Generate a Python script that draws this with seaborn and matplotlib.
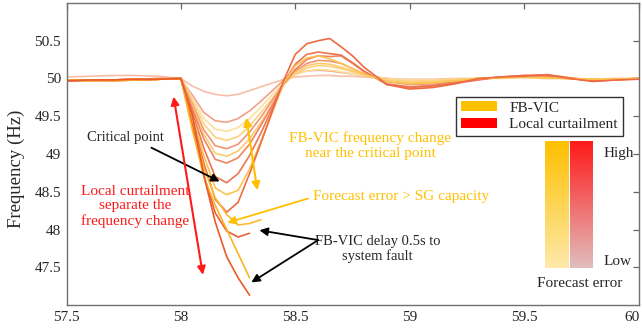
import numpy as np
import pandas as pd
import matplotlib
matplotlib.use("Agg")
import matplotlib.pyplot as plt
import matplotlib.transforms as mtrans
from matplotlib.patches import Patch
from matplotlib.colors import LinearSegmentedColormap
import seaborn as sns

# ---------------- data ----------------
time_s = [57.5, 57.6, 57.7, 57.8, 57.9, 58.0, 58.05, 58.1, 58.15, 58.2, 58.25,
          58.3, 58.35, 58.4, 58.45, 58.5, 58.55, 58.6, 58.65, 58.7, 58.75, 58.8,
          58.9, 59.0, 59.1, 59.2, 59.3, 59.4, 59.5, 59.6, 59.7, 59.8, 59.9, 60.0]

lc_a = [50.02, 50.03, 50.04, 50.04, 50.03, 50.0, 49.9, 49.83, 49.79, 49.77, 49.79, 49.84, 49.89, 49.94, 49.99, 50.02, 50.03, 50.04, 50.04, 50.03, 50.03, 50.02, 50.0, 49.99, 49.99, 50.0, 50.0, 50.01, 50.01, 50.0, 50.0, 49.99, 50.0, 50.0]
lc_b = [49.98, 49.97, 49.98, 49.99, 50.0, 49.99, 49.78, 49.55, 49.44, 49.42, 49.47, 49.57, 49.7, 49.84, 49.98, 50.06, 50.1, 50.11, 50.1, 50.08, 50.06, 50.04, 50.0, 49.97, 49.97, 49.98, 50.0, 50.01, 50.02, 50.01, 50.0, 49.99, 49.99, 50.0]
fb_c = [49.97, 49.98, 49.97, 49.98, 49.99, 50.0, 49.74, 49.47, 49.33, 49.3, 49.35, 49.47, 49.62, 49.79, 49.95, 50.05, 50.1, 50.12, 50.11, 50.09, 50.06, 50.04, 50.0, 49.98, 49.98, 49.99, 50.0, 50.0, 50.01, 50.0, 50.0, 49.99, 50.0, 50.0]
fb_d = [49.98, 49.97, 49.98, 49.98, 49.99, 50.0, 49.7, 49.4, 49.22, 49.18, 49.23, 49.37, 49.55, 49.74, 49.93, 50.06, 50.14, 50.17, 50.16, 50.13, 50.09, 50.05, 49.99, 49.96, 49.97, 49.99, 50.0, 50.01, 50.02, 50.01, 50.0, 49.99, 49.99, 50.0]
lc_e = [49.97, 49.98, 49.98, 49.99, 49.99, 50.0, 49.66, 49.32, 49.11, 49.07, 49.13, 49.29, 49.49, 49.71, 49.94, 50.1, 50.2, 50.24, 50.23, 50.2, 50.13, 50.06, 49.96, 49.92, 49.93, 49.96, 49.99, 50.02, 50.03, 50.02, 50.0, 49.98, 49.99, 50.0]
fb_f = [49.98, 49.98, 49.97, 49.98, 49.99, 50.0, 49.63, 49.26, 49.01, 48.97, 49.04, 49.2, 49.42, 49.66, 49.92, 50.08, 50.17, 50.2, 50.19, 50.15, 50.1, 50.05, 49.97, 49.94, 49.95, 49.97, 50.0, 50.01, 50.02, 50.01, 50.0, 49.99, 49.99, 50.0]
lc_g = [49.98, 49.97, 49.98, 49.99, 50.0, 50.0, 49.6, 49.2, 48.93, 48.88, 48.95, 49.13, 49.38, 49.65, 49.93, 50.12, 50.25, 50.3, 50.29, 50.3, 50.2, 50.09, 49.93, 49.89, 49.91, 49.95, 49.99, 50.02, 50.04, 50.03, 50.0, 49.97, 49.98, 50.0]
lc_h = [49.97, 49.98, 49.98, 49.99, 49.99, 50.0, 49.55, 49.08, 48.7, 48.62, 48.74, 48.98, 49.28, 49.61, 49.95, 50.19, 50.32, 50.35, 50.33, 50.31, 50.21, 50.1, 49.92, 49.88, 49.9, 49.94, 49.98, 50.02, 50.04, 50.05, 50.01, 49.97, 49.98, 50.0]
fb_i = [49.98, 49.97, 49.98, 49.98, 49.99, 50.0, 49.5, 48.98, 48.55, 48.46, 48.52, 48.8, 49.17, 49.56, 49.94, 50.17, 50.27, 50.3, 50.26, 50.2, 50.13, 50.06, 49.96, 49.93, 49.94, 49.97, 50.0, 50.01, 50.02, 50.01, 50.0, 49.99, 49.99, 50.0]
lc_j = [49.98, 49.98, 49.97, 49.98, 49.99, 50.0, 49.45, 48.88, 48.4, 48.23, 48.36, 48.74, 49.15, 49.57, 49.98, 50.32, 50.46, 50.5, 50.53, 50.42, 50.3, 50.15, 49.92, 49.86, 49.88, 49.93, 50.0, 50.02, 50.03, 50.05, 50.0, 49.96, 49.98, 49.99]
fb_k = [49.98, 49.97, 49.98, 49.99, 49.99, 50.0, 49.42, 48.82, 48.42, 48.2, 48.06, 48.08, 48.13]
lc_l = [49.97, 49.98, 49.98, 49.98, 49.99, 50.0, 49.38, 48.72, 48.22, 47.98, 47.9, 47.95]
fb_m = [49.98, 49.98, 49.97, 49.98, 49.99, 50.0, 49.32, 48.7, 48.32, 48.0, 47.68, 47.36]
lc_n = [49.97, 49.98, 49.98, 49.99, 49.99, 50.0, 49.52, 48.72, 48.1, 47.64, 47.36, 47.13]

curves = {"A": lc_a, "B": lc_b, "C": fb_c, "D": fb_d, "E": lc_e, "F": fb_f, "G": lc_g,
          "H": lc_h, "I": fb_i, "J": lc_j, "K": fb_k, "L": lc_l, "M": fb_m, "N": lc_n}
curve_colors = {"A": "#F8BFA8", "B": "#F4A088", "C": "#FDDFA0", "D": "#FCD27E",
                "E": "#F29478", "F": "#FCCB70", "G": "#F08462", "H": "#EE7450",
                "I": "#FBC250", "J": "#EE6A42", "K": "#FBB938", "L": "#EC6036",
                "M": "#FBB428", "N": "#EA5A2A"}

legend_labels = ["FB-VIC", "Local curtailment"]
x_ticks = [57.5, 58, 58.5, 59, 59.5, 60]
y_ticks = [47.5, 48, 48.5, 49, 49.5, 50, 50.5]

rows = []
for name, vals in curves.items():
    for tt, ff in zip(time_s[:len(vals)], vals):
        rows.append((name, tt, ff))
df = pd.DataFrame(rows, columns=["curve", "time", "freq"])

# ---------------- figure ----------------
sns.set_style("white")
plt.rcParams["font.family"] = ["Liberation Serif", "DejaVu Serif"]
plt.rcParams["font.size"] = 11

fig = plt.figure(figsize=(6.42, 3.31), dpi=100)
ax = fig.add_axes([0.1036, 0.0785, 0.8910, 0.9125])

sns.lineplot(data=df, x="time", y="freq", hue="curve", palette=curve_colors,
             estimator=None, sort=False, legend=False, linewidth=1.2, ax=ax)

ax.set_xlim(57.5, 60)
ax.set_ylim(47.0, 51.0)
ax.set_xticks(x_ticks)
ax.set_xticklabels([f"{v:g}" for v in x_ticks])
ax.set_yticks(y_ticks)
ax.set_yticklabels([f"{v:g}" for v in y_ticks])
ax.tick_params(direction="in", top=True, right=True, length=4, width=0.9,
               color="#666666", labelsize=11, pad=4)
for s in ax.spines.values():
    s.set_color("#707070")
    s.set_linewidth(1.0)
ax.set_xlabel("")
ax.set_ylabel("Frequency (Hz)", fontsize=13.5)
ax.yaxis.set_label_coords(-0.072, 0.45)

# keep the last x label inside the figure
last_lab = ax.get_xticklabels()[-1]
last_lab.set_transform(last_lab.get_transform() +
                       mtrans.ScaledTranslation(-5 / 72, 0, fig.dpi_scale_trans))

GOLD = "#FFC000"
RED = "#FF1A1A"

# gradient bars
yel_cmap = LinearSegmentedColormap.from_list("y", ["#FDE9AA", GOLD])
red_cmap = LinearSegmentedColormap.from_list("r", ["#E2BDBD", "#FF1A1A"])
grad = np.linspace(0, 1, 200).reshape(-1, 1)
ax.imshow(grad, cmap=yel_cmap, origin="lower", aspect="auto",
          extent=(59.591, 59.692, 47.49, 49.164), zorder=3)
ax.imshow(grad, cmap=red_cmap, origin="lower", aspect="auto",
          extent=(59.701, 59.801, 47.49, 49.164), zorder=3)
ax.set_xlim(57.5, 60)
ax.set_ylim(47.0, 51.0)
ax.text(59.848, 49.0, "High", ha="left", va="center", fontsize=11)
ax.text(59.848, 47.57, "Low", ha="left", va="center", fontsize=11)
ax.text(59.745, 47.28, "Forecast error", ha="center", va="center", fontsize=11)

# legend
handles = [Patch(facecolor=GOLD, edgecolor="none"), Patch(facecolor="#FF0000", edgecolor="none")]
leg = ax.legend(handles, legend_labels, loc="upper right", bbox_to_anchor=(0.972, 0.689),
                frameon=True, fancybox=False, fontsize=11, handlelength=2.4,
                handleheight=0.55, borderpad=0.3, labelspacing=0.25, handletextpad=0.8,
                borderaxespad=0)
leg.get_frame().set_edgecolor("black")
leg.get_frame().set_linewidth(1.0)

# annotations
ax.text(57.756, 49.217, "Critical point", ha="center", va="center", fontsize=10.5)
ax.annotate("", xy=(58.18, 48.62), xytext=(57.86, 49.10),
            arrowprops=dict(arrowstyle="-|>", color="black", lw=1.3, mutation_scale=12))

ax.text(57.80, 48.31, "Local curtailment\nseparate the\nfrequency change", ha="center",
        va="center", fontsize=11, color=RED, linespacing=1.15)
ax.annotate("", xy=(58.096, 47.40), xytext=(57.968, 49.76),
            arrowprops=dict(arrowstyle="<|-|>", color=RED, lw=1.5, mutation_scale=12,
                            shrinkA=0, shrinkB=0))

ax.text(58.827, 49.11, "FB-VIC frequency change\nnear the critical point", ha="center",
        va="center", fontsize=11, color=GOLD, linespacing=1.15)
ax.annotate("", xy=(58.334, 48.52), xytext=(58.286, 49.48),
            arrowprops=dict(arrowstyle="<|-|>", color=GOLD, lw=1.5, mutation_scale=12,
                            shrinkA=0, shrinkB=0))

ax.text(58.577, 48.44, "Forecast error > SG capacity", ha="left", va="center",
        fontsize=11, color=GOLD)
ax.annotate("", xy=(58.203, 48.09), xytext=(58.555, 48.41),
            arrowprops=dict(arrowstyle="-|>", color=GOLD, lw=1.3, mutation_scale=12,
                            shrinkA=0, shrinkB=0))

ax.text(58.86, 47.74, "FB-VIC delay 0.5s to\nsystem fault", ha="center", va="center",
        fontsize=10.5, linespacing=1.15)
ax.annotate("", xy=(58.343, 47.99), xytext=(58.60, 47.86),
            arrowprops=dict(arrowstyle="-|>", color="black", lw=1.3, mutation_scale=12,
                            shrinkA=0, shrinkB=0))
ax.annotate("", xy=(58.308, 47.30), xytext=(58.60, 47.86),
            arrowprops=dict(arrowstyle="-|>", color="black", lw=1.3, mutation_scale=12,
                            shrinkA=0, shrinkB=0))

fig.savefig("out.png", dpi=100)
